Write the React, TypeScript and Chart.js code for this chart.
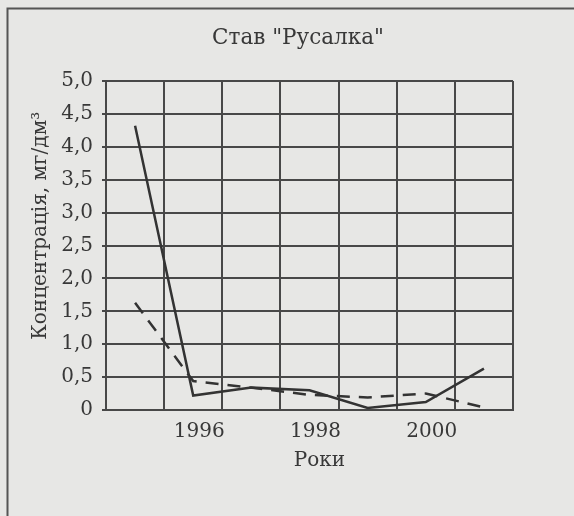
import React, { useEffect, useRef } from "react";
import { Chart, registerables } from "chart.js";

Chart.register(...registerables);

const years = ["1995", "1996", "1997", "1998", "1999", "2000", "2001"];
const xTickLabels = ["", "1996", "", "1998", "", "2000", ""];
const yTickLabels = ["0", "0,5", "1,0", "1,5", "2,0", "2,5", "3,0", "3,5", "4,0", "4,5", "5,0"];
const solidSeries = [4.32, 0.22, 0.34, 0.3, 0.03, 0.12, 0.63];
const dashedSeries = [1.63, 0.44, 0.34, 0.23, 0.19, 0.25, 0.04];
const chartTitle = 'Став "Русалка"';
const xTitle = "Роки";
const yTitle = "Концентрація, мг/дм³";

const FONT = '"DejaVu Serif", "Liberation Serif", serif';
const TEXT = "#383838";
const LINE = "#333333";
const GRID = "#484848";
const BG = "#e7e7e5";

const decor = {
  id: "decor",
  beforeDraw(chart: any) {
    const ctx = chart.ctx;
    ctx.save();
    ctx.fillStyle = BG;
    ctx.fillRect(0, 0, chart.width, chart.height);
    ctx.strokeStyle = "#555555";
    ctx.lineWidth = 2;
    ctx.beginPath();
    ctx.moveTo(chart.width, 8.5);
    ctx.lineTo(7.5, 8.5);
    ctx.lineTo(7.5, chart.height);
    ctx.stroke();
    ctx.restore();
  },
  afterDraw(chart: any) {
    const ctx = chart.ctx;
    const a = chart.chartArea;
    ctx.save();
    ctx.fillStyle = TEXT;
    ctx.textAlign = "center";
    ctx.textBaseline = "alphabetic";
    ctx.font = `21.5px ${FONT}`;
    ctx.fillText(chartTitle, 298, 44);
    ctx.font = `20px ${FONT}`;
    const xs = chart.scales.x;
    const cx = xs.getPixelForValue(3) + 10;
    ctx.fillText(xTitle, cx, 466);
    ctx.translate(46, a.top + 0.44 * (a.bottom - a.top));
    ctx.rotate(-Math.PI / 2);
    ctx.fillText(yTitle, 0, 0);
    ctx.restore();
  },
};

export default function App() {
  const ref = useRef<HTMLCanvasElement | null>(null);
  useEffect(() => {
    document.body.style.margin = "0";
    const canvas = ref.current!;
    const chart = new Chart(canvas, {
      type: "line",
      data: {
        labels: years,
        datasets: [
          {
            data: solidSeries,
            borderColor: LINE,
            borderWidth: 2.5,
            pointRadius: 0,
            tension: 0,
            fill: false,
          },
          {
            data: dashedSeries,
            borderColor: LINE,
            borderWidth: 2.5,
            borderDash: [13, 9],
            pointRadius: 0,
            tension: 0,
            fill: false,
          },
        ],
      },
      options: {
        animation: false,
        responsive: false,
        devicePixelRatio: 1,
        layout: { padding: { top: 81, right: 61, left: 0, bottom: 0 } },
        plugins: {
          legend: { display: false },
          title: { display: false },
          tooltip: { enabled: false },
        },
        scales: {
          x: {
            type: "category",
            offset: true,
            afterFit: (s: any) => {
              s.height = 106;
            },
            grid: {
              offset: true,
              color: GRID,
              lineWidth: 2,
              drawTicks: false,
            },
            border: { color: GRID, width: 2 },
            ticks: {
              autoSkip: false,
              maxRotation: 0,
              padding: 10,
              labelOffset: 6,
              color: TEXT,
              font: { family: FONT, size: 20 },
              callback: (_v: any, i: number) => xTickLabels[i],
            },
          },
          y: {
            min: 0,
            max: 5,
            afterFit: (s: any) => {
              s.width = 106;
            },
            grid: {
              color: GRID,
              lineWidth: 2,
              tickLength: 4,
            },
            border: { color: GRID, width: 2 },
            ticks: {
              stepSize: 0.5,
              padding: 9,
              color: TEXT,
              font: { family: FONT, size: 20 },
              callback: (_v: any, i: number) => yTickLabels[i],
            },
          },
        },
      },
      plugins: [decor],
    });
    return () => chart.destroy();
  }, []);
  return (
    <div style={{ width: 574, height: 516, background: BG }}>
      <canvas ref={ref} width={574} height={516} style={{ display: "block" }} />
    </div>
  );
}
